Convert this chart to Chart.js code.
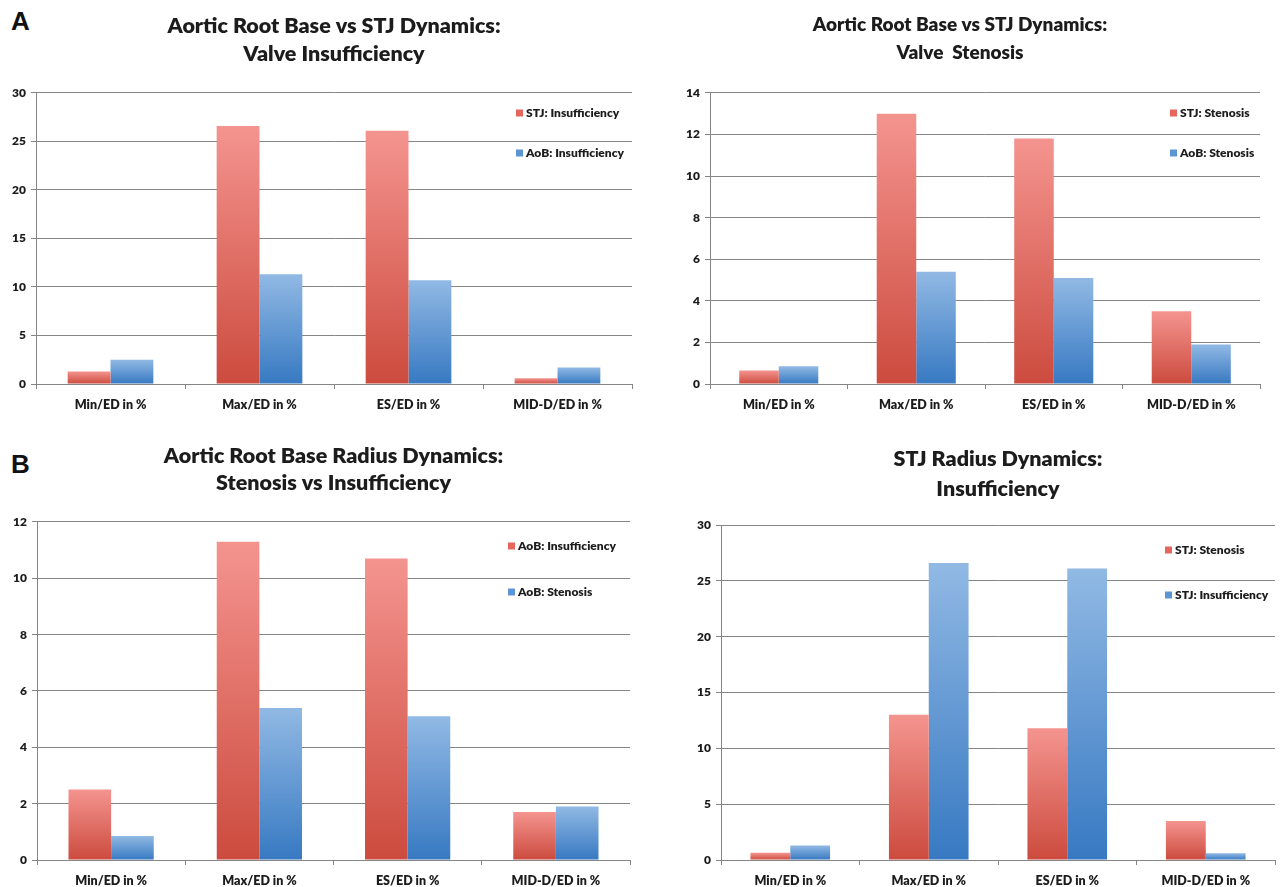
<!DOCTYPE html>
<html>
<head>
<meta charset="utf-8">
<title>Aortic Root Base and STJ Radius Dynamics</title>
<script src="https://cdn.jsdelivr.net/npm/chart.js@4.4.1/dist/chart.umd.min.js"></script>
<style>
  html, body { margin: 0; padding: 0; background: #fff; }
  body { width: 1280px; height: 887px; position: relative; overflow: hidden; }
  .panel { position: absolute; }
  .letter { position: absolute; font-family: "Liberation Sans", Arial, sans-serif; font-weight: bold; font-size: 26px; color: #111; }
</style>
</head>
<body>
<div class="letter" style="left:11px; top:6px;">A</div>
<div class="letter" style="left:11px; top:449px;">B</div>
<div class="panel" style="left:0; top:0;"><canvas id="c1" width="640" height="430"></canvas></div>
<div class="panel" style="left:660px; top:0;"><canvas id="c2" width="620" height="430"></canvas></div>
<div class="panel" style="left:0; top:430px;"><canvas id="c3" width="640" height="457"></canvas></div>
<div class="panel" style="left:640px; top:430px;"><canvas id="c4" width="640" height="457"></canvas></div>
<script>
// Measurement categories (percent change relative to end-diastole)
const categories = ['Min/ED in %', 'Max/ED in %', 'ES/ED in %', 'MID-D/ED in %'];

// Series values
const stjInsufficiency = [1.3, 26.6, 26.1, 0.6];
const aobInsufficiency = [2.5, 11.3, 10.7, 1.7];
const stjStenosis = [0.65, 13.0, 11.8, 3.5];
const aobStenosis = [0.85, 5.4, 5.1, 1.9];

// Y-axis ranges per panel
const yMaxValveInsuff = 30, yStepValveInsuff = 5;
const yMaxValveSten = 14, yStepValveSten = 2;
const yMaxAobRadius = 12, yStepAobRadius = 2;
const yMaxStjRadius = 30, yStepStjRadius = 5;

const FONT = 'Lato, "Open Sans", sans-serif';
const INK = '#1c1c1c';
const GRID = '#858585';

const RED = { top: '#f4948f', bottom: '#cc4b3e', key: '#e4665d' };
const BLUE = { top: '#91b9e4', bottom: '#3779c2', key: '#5b95d4' };

// Each bar gets its own vertical gradient, light at the top and deeper at the base.
function barFill(pal) {
  return (ctx) => {
    const chart = ctx.chart;
    if (!chart.chartArea || ctx.type !== 'data') return pal.key;
    const ys = chart.scales.y;
    const yTop = ys.getPixelForValue(ctx.raw);
    const yBase = ys.getPixelForValue(0);
    if (!isFinite(yTop) || !isFinite(yBase) || Math.abs(yBase - yTop) < 1) return pal.bottom;
    const g = chart.ctx.createLinearGradient(0, yTop, 0, yBase);
    g.addColorStop(0, pal.top);
    g.addColorStop(1, pal.bottom);
    return g;
  };
}

// Legend drawn inside the plot, at the upper right.
const insideLegend = {
  id: 'insideLegend',
  afterDatasetsDraw(chart, args, opts) {
    const c = chart.ctx;
    c.save();
    c.font = '800 12px ' + FONT;
    c.textBaseline = 'middle';
    c.textAlign = 'left';
    chart.data.datasets.forEach((ds, i) => {
      const y = opts.y + i * opts.gap;
      c.fillStyle = ds.keyColor;
      c.fillRect(opts.x, y - 3.5, 7, 7);
      c.fillStyle = INK;
      c.fillText(ds.label, opts.x + 10, y);
    });
    c.restore();
  }
};

function build(id, cfg) {
  const ctx = document.getElementById(id);
  return new Chart(ctx, {
    type: 'bar',
    data: {
      labels: categories,
      datasets: cfg.series.map(s => ({
        label: s.label,
        data: s.data,
        backgroundColor: barFill(s.pal),
        keyColor: s.pal.key,
        borderWidth: 0,
        categoryPercentage: 0.575,
        barPercentage: 1.0
      }))
    },
    options: {
      responsive: false,
      animation: false,
      devicePixelRatio: 1,
      layout: { padding: { left: 0, right: cfg.padRight, top: 0, bottom: 0 } },
      plugins: {
        legend: { display: false },
        tooltip: { enabled: false },
        title: {
          display: true,
          text: cfg.title,
          fullSize: cfg.titleFull,
          color: INK,
          font: { family: FONT, weight: '800', size: cfg.titleSize, lineHeight: cfg.titleLH },
          padding: { top: cfg.titleTop, bottom: cfg.titleBottom }
        },
        insideLegend: cfg.legend
      },
      scales: {
        x: {
          grid: { display: true, offset: true, drawOnChartArea: false, drawTicks: true, tickLength: 5, color: GRID, lineWidth: 1 },
          border: { display: true, color: GRID, width: 1 },
          ticks: { color: INK, font: { family: FONT, weight: '800', size: 12.5 }, padding: 8, maxRotation: 0 },
          afterFit(scale) { scale.height = cfg.xHeight; }
        },
        y: {
          min: 0,
          max: cfg.yMax,
          grid: { color: GRID, lineWidth: 1, drawTicks: true, tickLength: 5 },
          border: { display: true, color: GRID, width: 1 },
          ticks: { stepSize: cfg.yStep, color: INK, font: { family: FONT, weight: '800', size: 12 }, padding: 5 },
          afterFit(scale) { scale.width = cfg.yWidth; }
        }
      }
    },
    plugins: [insideLegend]
  });
}

build('c1', {
  title: ['Aortic Root Base vs STJ Dynamics:', 'Valve Insufficiency'],
  titleFull: false, titleSize: 21.5, titleLH: 1.3, titleTop: 12, titleBottom: 25,
  yMax: yMaxValveInsuff, yStep: yStepValveInsuff,
  yWidth: 36, padRight: 8, xHeight: 46,
  legend: { x: 516, y: 113, gap: 40 },
  series: [
    { label: 'STJ: Insufficiency', data: stjInsufficiency, pal: RED },
    { label: 'AoB: Insufficiency', data: aobInsufficiency, pal: BLUE }
  ]
});

build('c2', {
  title: ['Aortic Root Base vs STJ Dynamics:', 'Valve  Stenosis'],
  titleFull: true, titleSize: 19, titleLH: 1.47, titleTop: 11, titleBottom: 26,
  yMax: yMaxValveSten, yStep: yStepValveSten,
  yWidth: 50, padRight: 20, xHeight: 46,
  legend: { x: 510, y: 113, gap: 40 },
  series: [
    { label: 'STJ: Stenosis', data: stjStenosis, pal: RED },
    { label: 'AoB: Stenosis', data: aobStenosis, pal: BLUE }
  ]
});

build('c3', {
  title: ['Aortic Root Base Radius Dynamics:', 'Stenosis vs Insufficiency'],
  titleFull: false, titleSize: 21.5, titleLH: 1.26, titleTop: 12.5, titleBottom: 25.3,
  yMax: yMaxAobRadius, yStep: yStepAobRadius,
  yWidth: 37, padRight: 10, xHeight: 27,
  legend: { x: 508, y: 116, gap: 46 },
  series: [
    { label: 'AoB: Insufficiency', data: aobInsufficiency, pal: RED },
    { label: 'AoB: Stenosis', data: aobStenosis, pal: BLUE }
  ]
});

build('c4', {
  title: ['STJ Radius Dynamics:', 'Insufficiency'],
  titleFull: false, titleSize: 21.5, titleLH: 1.4, titleTop: 14, titleBottom: 20.8,
  yMax: yMaxStjRadius, yStep: yStepStjRadius,
  yWidth: 81, padRight: 5, xHeight: 27,
  legend: { x: 525, y: 120, gap: 45 },
  series: [
    { label: 'STJ: Stenosis', data: stjStenosis, pal: RED },
    { label: 'STJ: Insufficiency', data: stjInsufficiency, pal: BLUE }
  ]
});
</script>
</body>
</html>
